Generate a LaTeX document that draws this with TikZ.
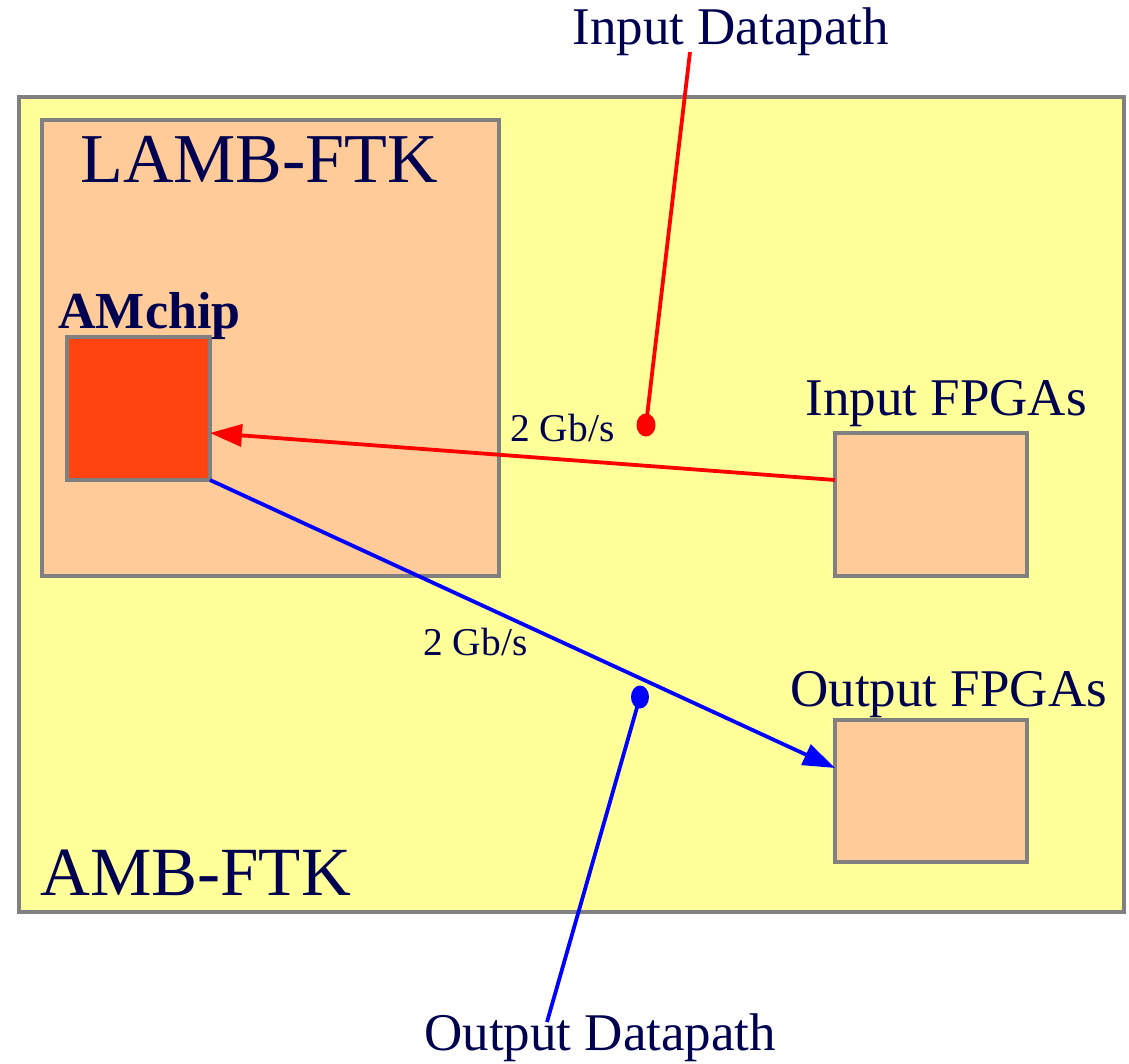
\documentclass[tikz,border=0pt]{standalone}
\usepackage{fontspec}
\setmainfont{Liberation Serif}
\usetikzlibrary{arrows.meta,shapes.geometric}
\definecolor{txt}{RGB}{0,0,80}
\definecolor{boardy}{RGB}{255,255,153}
\definecolor{peach}{RGB}{255,204,153}
\definecolor{chipred}{RGB}{255,68,17}
\definecolor{bordergray}{RGB}{128,128,128}
\definecolor{linered}{RGB}{255,0,0}
\definecolor{lineblue}{RGB}{0,0,255}
\tikzset{
  box/.style={draw=bordergray, line width=2pt, rectangle, inner sep=0pt, outer sep=0pt},
  lbl/.style={text=txt, inner sep=0pt, anchor=base west},
  link/.style={line width=1.9pt},
  tip/.style={-{Triangle[length=16pt,width=11pt]}},
}
\begin{document}
\begin{tikzpicture}[x=0.5pt,y=-0.5pt]
\useasboundingbox (0,0) rectangle (1129,1064);
% boxes
\node[box, fill=boardy, minimum width=552.5pt, minimum height=407.5pt] (amb) at (571.5,504.5) {};
\node[box, fill=peach, minimum width=228.5pt, minimum height=228pt] (lamb) at (270.5,348) {};
\node[box, fill=chipred, minimum width=71.5pt, minimum height=71.5pt] (chip) at (138.5,408.5) {};
\node[box, fill=peach, minimum width=96pt, minimum height=71.5pt] (infpga) at (931,504.5) {};
\node[box, fill=peach, minimum width=96pt, minimum height=71pt] (outfpga) at (931,791) {};
% labels
\node[lbl, font=\fontsize{26.5}{30}\selectfont] (tin) at (572,45) {Input Datapath};
\node[lbl, font=\fontsize{35}{40}\selectfont] (tlamb) at (80,183) {LAMB-FTK};
\node[lbl, font=\fontsize{26}{30}\selectfont\bfseries] (tchip) at (58,328) {AMchip};
\node[lbl, font=\fontsize{19.7}{24}\selectfont] (rin) at (510,441) {2 Gb/s};
\node[lbl, font=\fontsize{26.5}{30}\selectfont] (tinf) at (805,415) {Input FPGAs};
\node[lbl, font=\fontsize{19.7}{24}\selectfont] (rout) at (423,655) {2 Gb/s};
\node[lbl, font=\fontsize{26.5}{30}\selectfont] (toutf) at (790,706) {Output FPGAs};
\node[lbl, font=\fontsize{34.5}{40}\selectfont] (tamb) at (40,895) {AMB-FTK};
\node[lbl, font=\fontsize{26.5}{30}\selectfont] (tout) at (424,1050) {Output Datapath};
% datapath connectors
\draw[link, linered, tip] ([yshift=12.25pt]infpga.west) -- ([yshift=-12.25pt]chip.east);
\draw[link, lineblue, tip] (chip.south east) -- ([yshift=11.5pt]outfpga.west);
% datapath markers
\node[fill=linered, ellipse, inner sep=0pt, minimum width=9.5pt, minimum height=11.5pt] (rdot) at (646,425) {};
\coordinate (rend) at (690,52);
\draw[link, linered] (rdot.center) -- (rend);
\node[fill=lineblue, ellipse, inner sep=0pt, minimum width=9pt, minimum height=11.5pt] (bdot) at (640,697) {};
\coordinate (bend) at (547,1022);
\draw[link, lineblue] (bdot.center) -- (bend);
\end{tikzpicture}
\end{document}
